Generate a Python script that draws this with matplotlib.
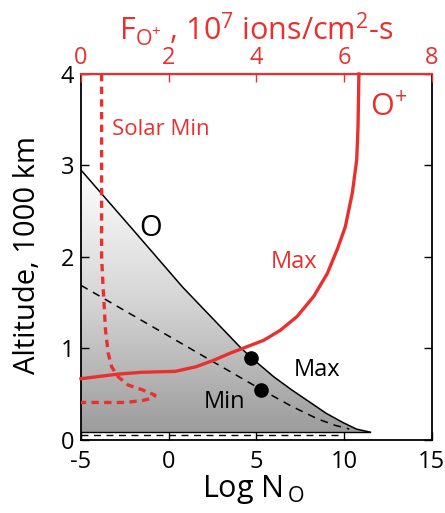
import numpy as np
import matplotlib
matplotlib.use("Agg")
import matplotlib.pyplot as plt
from matplotlib.colors import LinearSegmentedColormap

plt.rcParams['font.family'] = ['Open Sans', 'DejaVu Sans']
plt.rcParams['mathtext.fontset'] = 'custom'
plt.rcParams['mathtext.rm'] = 'Open Sans'
plt.rcParams['mathtext.it'] = 'Open Sans'

RED = '#e8312f'

# tick values / labels
x_ticks = [-5, 0, 5, 10, 15]
x_ticklabels = ['-5', '0', '5', '10', '15']
y_ticks = [0, 1, 2, 3, 4]
top_ticks = [0, 2, 4, 6, 8]

# O density profiles (Log N_O vs altitude, 1000 km)
o_max_logn = [-5.0, -2.0, 0.8, 2.5, 4.05, 4.71, 6.0, 7.0, 8.0, 9.0, 9.95, 10.7, 11.5]
o_max_alt = [2.95, 2.29, 1.67, 1.33, 1.02, 0.90, 0.69, 0.55, 0.42, 0.29, 0.19, 0.12, 0.085]
o_min_logn = [-5.0, 5.29, 7.0, 8.5, 9.5, 10.3]
o_min_alt = [1.69, 0.55, 0.37, 0.23, 0.16, 0.12]
base_logn = [-5.0, 11.5]
base_alt = [0.085, 0.085]
base2_logn = [-5.0, 10.0]
base2_alt = [0.058, 0.058]
dots_logn = [4.71, 5.29]
dots_alt = [0.90, 0.55]

# O+ flux profiles (10^7 ions/cm^2-s vs altitude)
fmax_flux = [6.34, 6.33, 6.32, 6.29, 6.19, 6.03, 5.86, 5.62, 5.31, 4.93, 4.55, 4.17,
             3.79, 3.41, 3.02, 2.62, 2.15, 1.39, 0.85, 0.0]
fmax_alt = [4.0, 3.7, 3.42, 3.06, 2.70, 2.33, 2.10, 1.82, 1.57, 1.35, 1.20, 1.09,
            1.02, 0.95, 0.87, 0.80, 0.75, 0.74, 0.72, 0.67]
fmin_flux = [0.47, 0.47, 0.50, 0.56, 0.62, 0.70, 0.85, 1.08, 1.39, 1.69, 1.65, 1.39, 1.0, 0.0]
fmin_alt = [4.0, 2.0, 1.71, 1.2, 0.95, 0.80, 0.69, 0.60, 0.55, 0.49, 0.46, 0.43, 0.41, 0.41]

fig = plt.figure(figsize=(4.45, 5.13), dpi=100)
ax = fig.add_axes([0.182, 0.1423, 0.788, 0.7135])
ax.set_xlim(-5, 15)
ax.set_ylim(0, 4)

# gradient fill under O (max) curve
poly = ax.fill_between(o_max_logn, o_max_alt, 0.085, facecolor='none', edgecolor='none')
cmap = LinearSegmentedColormap.from_list('g', ['#9c9c9c', '#d6d6d6', '#ffffff'])
grad = np.linspace(0, 1, 256).reshape(-1, 1)
im = ax.imshow(grad, extent=[-5, 15, 0.085, 3.0], origin='lower', cmap=cmap,
               aspect='auto', zorder=1)
im.set_clip_path(poly.get_paths()[0], transform=ax.transData)

ax.plot(o_max_logn, o_max_alt, color='black', lw=1.1, zorder=3)
ax.plot(o_min_logn, o_min_alt, color='black', lw=1.1, ls=(0, (5, 4)), zorder=3)
ax.plot(base_logn, base_alt, color='black', lw=1.0, zorder=3)
ax.plot(base2_logn, base2_alt, color='black', lw=1.0, ls=(0, (5, 4)), zorder=3)
ax.plot(dots_logn, dots_alt, 'o', color='black', ms=9.5, zorder=5)

ax.set_xticks(x_ticks)
ax.set_xticklabels(x_ticklabels)
ax.set_yticks(y_ticks)
ax.tick_params(direction='in', length=6, width=1.0, labelsize=17,
               right=True, top=False)
ax.tick_params(axis='x', pad=7)
ax.tick_params(axis='y', pad=5)
for s in ['left', 'right', 'bottom']:
    ax.spines[s].set_linewidth(1.3)
ax.set_xlabel('Log N$_{\\mathregular{\\,O}}$', fontsize=22)
ax.xaxis.set_label_coords(0.49, -0.09)
ax.set_ylabel('Altitude, 1000 km', fontsize=21)
ax.yaxis.set_label_coords(-0.112, 0.505)

ax.text(-1.65, 2.31, 'O', fontsize=21, va='center', ha='left')
ax.text(7.15, 0.77, 'Max', fontsize=17, va='center', ha='left')
ax.text(2.0, 0.41, 'Min', fontsize=17, va='center', ha='left')

ax2 = ax.twiny()
ax2.set_xlim(0, 8)
ax2.plot(fmax_flux, fmax_alt, color=RED, lw=2.4, zorder=4, clip_on=False,
         solid_joinstyle='round')
ax2.plot(fmin_flux, fmin_alt, color=RED, lw=2.4, ls=(0, (2.2, 1.6)), zorder=4)
ax2.set_xticks(top_ticks)
ax2.tick_params(axis='x', direction='in', length=6, width=1.0, colors=RED,
                labelsize=17, pad=3)
ax2.spines['top'].set_color(RED)
ax2.spines['top'].set_linewidth(1.6)
for s in ['left', 'right', 'bottom']:
    ax2.spines[s].set_visible(False)
ax2.set_xlabel('F$_{\\mathregular{O^{+}}}$ , 10$^{\\mathregular{7}}$ ions/cm$^{\\mathregular{2}}$-s',
               color=RED, fontsize=22, labelpad=4)

ax2.text(0.7, 3.39, 'Solar Min', color=RED, fontsize=16, va='center', ha='left')
ax2.text(4.32, 1.95, 'Max', color=RED, fontsize=17, va='center', ha='left')
ax2.text(6.6, 3.63, 'O$^{\\mathregular{+}}$', color=RED, fontsize=22, va='center', ha='left')

fig.savefig('out.png', dpi=100)
